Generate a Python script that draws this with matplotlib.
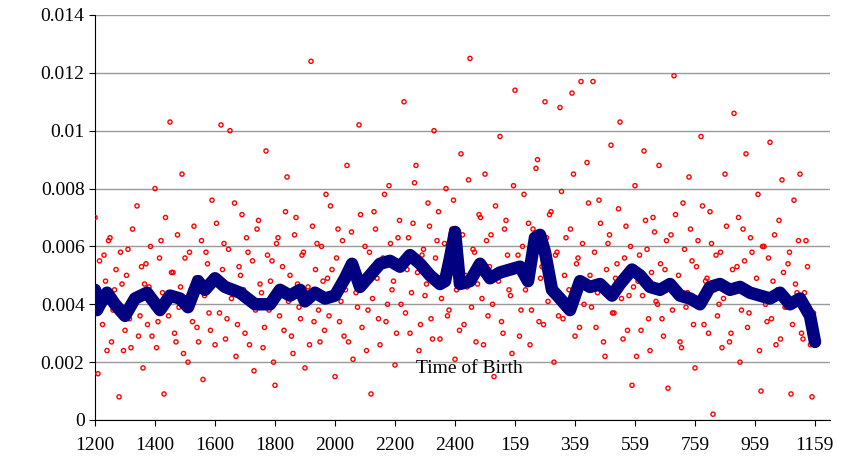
import matplotlib.pyplot as plt
import numpy as np

plt.rcParams['font.family'] = ['Liberation Serif', 'DejaVu Serif']

tick_labels = ['1200', '1400', '1600', '1800', '2000', '2200', '2400',
               '159', '359', '559', '759', '959', '1159']

# scatter of individual births (one value every 6 minutes)
scatter_vals = [
    0.0070, 0.0016, 0.0044, 0.0057, 0.0024, 0.0063, 0.0038, 0.0052, 0.0008, 0.0047,
    0.0031, 0.0059, 0.0025, 0.0041, 0.0074, 0.0036, 0.0018, 0.0054, 0.0046, 0.0029,
    0.0080, 0.0034, 0.0062, 0.0009, 0.0043, 0.0103, 0.0051, 0.0027, 0.0039, 0.0085,
    0.0056, 0.0020, 0.0045, 0.0067, 0.0032, 0.0049, 0.0014, 0.0058, 0.0037, 0.0076,
    0.0026, 0.0048, 0.0102, 0.0061, 0.0035, 0.0100, 0.0044, 0.0022, 0.0053, 0.0071,
    0.0030, 0.0058, 0.0040, 0.0017, 0.0066, 0.0047, 0.0025, 0.0093, 0.0038, 0.0055,
    0.0012, 0.0063, 0.0043, 0.0031, 0.0084, 0.0050, 0.0023, 0.0070, 0.0039, 0.0057,
    0.0018, 0.0046, 0.0124, 0.0034, 0.0061, 0.0027, 0.0048, 0.0078, 0.0036, 0.0052,
    0.0015, 0.0066, 0.0041, 0.0029, 0.0088, 0.0054, 0.0021, 0.0044, 0.0102, 0.0032,
    0.0060, 0.0038, 0.0009, 0.0072, 0.0049, 0.0026, 0.0056, 0.0034, 0.0081, 0.0045,
    0.0019, 0.0063, 0.0040, 0.0110, 0.0052, 0.0030, 0.0068, 0.0088, 0.0024, 0.0057,
    0.0043, 0.0075, 0.0035, 0.0100, 0.0062, 0.0028, 0.0050, 0.0080, 0.0038, 0.0066,
    0.0021, 0.0055, 0.0092, 0.0033, 0.0046, 0.0125, 0.0059, 0.0027, 0.0071, 0.0042,
    0.0085, 0.0036, 0.0064, 0.0015, 0.0051, 0.0098, 0.0030, 0.0069, 0.0045, 0.0023,
    0.0114, 0.0057, 0.0038, 0.0078, 0.0049, 0.0026, 0.0066, 0.0087, 0.0034, 0.0053,
    0.0110, 0.0041, 0.0072, 0.0020, 0.0058, 0.0108, 0.0035, 0.0063, 0.0045, 0.0113,
    0.0029, 0.0056, 0.0117, 0.0040, 0.0089, 0.0050, 0.0117, 0.0032, 0.0076, 0.0046,
    0.0022, 0.0061, 0.0095, 0.0037, 0.0054, 0.0103, 0.0028, 0.0067, 0.0043, 0.0012,
    0.0081, 0.0048, 0.0031, 0.0093, 0.0059, 0.0024, 0.0070, 0.0041, 0.0088, 0.0035,
    0.0052, 0.0011, 0.0064, 0.0119, 0.0045, 0.0027, 0.0075, 0.0039, 0.0084, 0.0055,
    0.0018, 0.0062, 0.0098, 0.0033, 0.0049, 0.0072, 0.0002, 0.0057, 0.0040, 0.0025,
    0.0085, 0.0046, 0.0030, 0.0106, 0.0053, 0.0020, 0.0066, 0.0092, 0.0037, 0.0058,
    0.0043, 0.0078, 0.0010, 0.0060, 0.0034, 0.0096, 0.0048, 0.0026, 0.0069, 0.0083,
    0.0039, 0.0054, 0.0009, 0.0076, 0.0044, 0.0085, 0.0028, 0.0062, 0.0036, 0.0008,
]

# second pass, offset by 3 minutes, mostly in the dense middle band
scatter_vals_b = [
    0.0041, 0.0055, 0.0033, 0.0048, 0.0062, 0.0027, 0.0045, 0.0038, 0.0058, 0.0024,
    0.0050, 0.0035, 0.0066, 0.0042, 0.0029, 0.0053, 0.0047, 0.0033, 0.0060, 0.0039,
    0.0025, 0.0056, 0.0044, 0.0070, 0.0036, 0.0051, 0.0030, 0.0064, 0.0046, 0.0023,
    0.0040, 0.0058, 0.0034, 0.0049, 0.0027, 0.0062, 0.0043, 0.0054, 0.0031, 0.0047,
    0.0068, 0.0037, 0.0052, 0.0028, 0.0059, 0.0042, 0.0075, 0.0033, 0.0050, 0.0045,
    0.0063, 0.0026, 0.0055, 0.0038, 0.0069, 0.0044, 0.0032, 0.0057, 0.0048, 0.0020,
    0.0061, 0.0036, 0.0053, 0.0072, 0.0041, 0.0029, 0.0064, 0.0047, 0.0035, 0.0058,
    0.0044, 0.0026, 0.0067, 0.0052, 0.0038, 0.0060, 0.0031, 0.0049, 0.0074, 0.0043,
    0.0056, 0.0034, 0.0062, 0.0045, 0.0027, 0.0065, 0.0050, 0.0039, 0.0071, 0.0046,
    0.0024, 0.0058, 0.0042, 0.0066, 0.0035, 0.0053, 0.0078, 0.0040, 0.0061, 0.0048,
    0.0030, 0.0069, 0.0055, 0.0037, 0.0063, 0.0044, 0.0082, 0.0051, 0.0033, 0.0059,
    0.0047, 0.0067, 0.0028, 0.0056, 0.0072, 0.0042, 0.0061, 0.0036, 0.0054, 0.0076,
    0.0045, 0.0031, 0.0064, 0.0050, 0.0083, 0.0039, 0.0058, 0.0047, 0.0070, 0.0026,
    0.0062, 0.0053, 0.0040, 0.0074, 0.0048, 0.0034, 0.0066, 0.0057, 0.0043, 0.0081,
    0.0052, 0.0029, 0.0060, 0.0045, 0.0068, 0.0038, 0.0055, 0.0090, 0.0049, 0.0033,
    0.0063, 0.0071, 0.0044, 0.0057, 0.0036, 0.0079, 0.0050, 0.0041, 0.0066, 0.0085,
    0.0054, 0.0032, 0.0061, 0.0047, 0.0075, 0.0039, 0.0058, 0.0044, 0.0068, 0.0027,
    0.0052, 0.0064, 0.0037, 0.0049, 0.0073, 0.0042, 0.0056, 0.0031, 0.0060, 0.0046,
    0.0022, 0.0057, 0.0043, 0.0069, 0.0035, 0.0051, 0.0065, 0.0040, 0.0054, 0.0029,
    0.0062, 0.0047, 0.0038, 0.0071, 0.0050, 0.0025, 0.0059, 0.0044, 0.0066, 0.0033,
    0.0053, 0.0041, 0.0074, 0.0048, 0.0030, 0.0061, 0.0045, 0.0036, 0.0058, 0.0042,
    0.0067, 0.0027, 0.0052, 0.0046, 0.0070, 0.0038, 0.0055, 0.0032, 0.0063, 0.0043,
    0.0049, 0.0024, 0.0060, 0.0040, 0.0056, 0.0035, 0.0064, 0.0045, 0.0028, 0.0051,
    0.0039, 0.0058, 0.0033, 0.0047, 0.0062, 0.0030, 0.0044, 0.0053, 0.0026, 0.0037,
]

# smoothed (moving average) curve, read at pixel positions and converted to minutes
avg_px = [95, 97, 100, 107, 115, 125, 135, 147, 160, 170, 180, 188, 198, 205, 215,
          225, 240, 255, 270, 280, 290, 300, 305, 315, 325, 335, 345, 352, 360, 370,
          380, 390, 400, 410, 420, 430, 440, 445, 450, 455, 460, 470, 480, 490, 500,
          510, 520, 528, 535, 540, 545, 552, 560, 570, 580, 590, 600, 612, 620, 632,
          640, 650, 660, 670, 680, 690, 700, 710, 720, 730, 740, 750, 760, 770, 780,
          790, 800, 810, 815]
avg_vals = [0.0045, 0.0038, 0.0040, 0.0044, 0.0040, 0.0036, 0.0042, 0.0044, 0.0038, 0.0043,
            0.0042, 0.0039, 0.0048, 0.0045, 0.0049, 0.0046, 0.0044, 0.0040, 0.0040, 0.0045,
            0.0043, 0.0045, 0.0041, 0.0044, 0.0042, 0.0043, 0.0049, 0.0054, 0.0046, 0.0050,
            0.0054, 0.0055, 0.0053, 0.0057, 0.0054, 0.0050, 0.0047, 0.0048, 0.0056, 0.0065,
            0.0047, 0.0048, 0.0054, 0.0049, 0.0051, 0.0052, 0.0053, 0.0048, 0.0063, 0.0064,
            0.0058, 0.0045, 0.0042, 0.0038, 0.0048, 0.0046, 0.0047, 0.0043, 0.0047, 0.0052,
            0.0050, 0.0046, 0.0045, 0.0047, 0.0043, 0.0042, 0.0040, 0.0046, 0.0047, 0.0045,
            0.0046, 0.0044, 0.0043, 0.0042, 0.0044, 0.0040, 0.0042, 0.0036, 0.0027]

scatter_x = np.arange(len(scatter_vals)) * 6
scatter_x_b = np.arange(len(scatter_vals_b)) * 6 + 3
avg_x = (np.array(avg_px) - 95) * 2

fig = plt.figure(figsize=(8.46, 4.66), dpi=100)
ax = fig.add_axes([95 / 846, 46 / 466, 735 / 846, 405 / 466])

for xs, ys in [(scatter_x, scatter_vals), (scatter_x_b, scatter_vals_b)]:
    ax.scatter(xs, ys, s=9, facecolors='none', edgecolors='red',
               linewidths=1.0, zorder=3)
ax.plot(avg_x, avg_vals, color='#000080', lw=9, solid_joinstyle='round',
        solid_capstyle='round', zorder=4)

ax.set_xlim(0, 1470)
ax.set_ylim(0, 0.014)
ax.set_yticks(np.arange(0, 0.0141, 0.002))
ax.set_yticklabels(['0', '0.002', '0.004', '0.006', '0.008', '0.01', '0.012', '0.014'])
ax.set_xticks(list(range(0, 1440, 120)) + [1439])
ax.set_xticklabels(tick_labels)
ax.tick_params(labelsize=14, length=4)
ax.tick_params(axis='x', pad=8)
ax.grid(axis='y', color='#999999', lw=1)
ax.set_axisbelow(True)
for s in ['top', 'right']:
    ax.spines[s].set_visible(False)
ax.text(0.51, 0.115, 'Time of Birth', transform=ax.transAxes, ha='center',
        fontsize=14, zorder=5)

fig.savefig('out.png', dpi=100)
